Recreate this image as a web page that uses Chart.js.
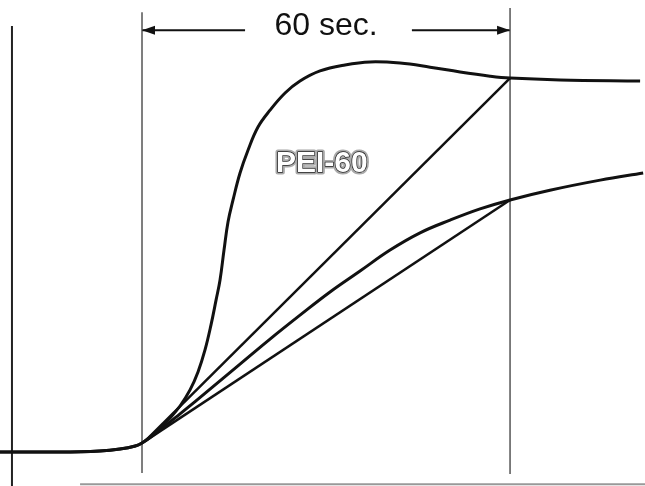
<!DOCTYPE html>
<html>
<head>
<meta charset="utf-8">
<script src="https://cdn.jsdelivr.net/npm/chart.js@4/dist/chart.umd.min.js"></script>
<style>
  html, body { margin: 0; padding: 0; background: #fff; }
  #wrap { width: 645px; height: 486px; }
</style>
</head>
<body>
<div id="wrap"><canvas id="chart" width="645" height="486"></canvas></div>
<script>
// time in seconds (0 = start of step), response in % of final upper level
const baseT = [-23.2, -13.4, -6.9, -3.6, -1.1];
const baseV = [0, 0, 0.3, 0.8, 1.6];

const upperT = [0, 1.3, 2.93, 4.57, 6.2, 7.83, 9.13, 10.27, 11.25, 12.07, 12.72, 13.37, 14.02, 14.84, 15.98, 17.28, 18.91, 20.87, 23.32, 25.76, 29.02, 33.1, 37.18, 42.07, 46.96, 51.85, 56.74, 60, 68.15, 81.2];
const upperV = [2.4, 4.0, 6.4, 9.1, 12.3, 16.6, 21.4, 27.3, 34.0, 40.6, 46.0, 54.0, 61.5, 67.4, 74.6, 80.7, 86.9, 91.4, 96.0, 99.2, 101.9, 103.5, 104.3, 104.0, 102.9, 101.6, 100.5, 100, 99.5, 99.2];

const lowerT = [0, 2.93, 6.2, 11.09, 15.98, 20.87, 25.76, 30.65, 35.55, 40.44, 45.33, 50.22, 55.11, 60, 66.5, 74.7, 81.7];
const lowerV = [2.4, 5.9, 10.2, 16.8, 23.5, 30.2, 36.6, 42.8, 48.4, 54.0, 58.6, 62.0, 65.0, 67.4, 70.0, 72.7, 74.6];

// straight lines from the onset to the curves at 60 s
const chordT = [0.5, 60];
const upperChordV = [2.9, 100];
const lowerChordV = [2.9, 67.4];

// markers at 0 s and 60 s, frame lines
const markT = [0, 60];
const markTop = [117.6, 118.7];
const markBottom = [-5.6, -5.9];
const axisT = -21.2;
const axisV = [113.9, -9.1];
const floorT = [-10.1, 82];
const floorV = -8.6;

// dimension arrows
const arrowLeftT = [16.8, 0];
const arrowRightT = [44.0, 60];
const arrowV = 112.8;

const labels = [
  { text: '60 sec.', t: 30, v: 111.5, style: 'plain' },
  { text: 'PEI-60', t: 29.3, v: 74.9, style: 'outline' }
];

const xMin = -23.15, xMax = 82.0;
const yMin = -9.09, yMax = 120.86;

function pts(ts, vs) {
  return ts.map((t, i) => ({ x: t, y: Array.isArray(vs) ? vs[i] : vs }));
}

const curve = (ts, vs) => ({
  data: pts(baseT.concat(ts), baseV.concat(vs)),
  borderColor: '#111',
  borderWidth: 3,
  pointRadius: 0,
  tension: 0.4,
  fill: false
});

const seg = (data, color, width, extra) => Object.assign({
  data: data,
  borderColor: color,
  borderWidth: width,
  pointRadius: 0,
  tension: 0,
  fill: false
}, extra || {});

const datasets = [
  curve(upperT, upperV),
  curve(lowerT, lowerV),
  seg(pts(chordT, upperChordV), '#111', 2.5),
  seg(pts(chordT, lowerChordV), '#111', 2.5),
  seg([{ x: markT[0], y: markTop[0] }, { x: markT[0], y: markBottom[0] }], '#555', 1.5),
  seg([{ x: markT[1], y: markTop[1] }, { x: markT[1], y: markBottom[1] }], '#555', 1.5),
  seg([{ x: axisT, y: axisV[0] }, { x: axisT, y: axisV[1] }], '#222', 2),
  seg(pts(floorT, floorV), '#999', 2),
  seg(pts(arrowLeftT, arrowV), '#111', 2, { arrowHead: true }),
  seg(pts(arrowRightT, arrowV), '#111', 2, { arrowHead: true })
];

const extras = {
  id: 'extras',
  afterDatasetsDraw(chart) {
    const ctx = chart.ctx;
    const xs = chart.scales.x, ys = chart.scales.y;
    ctx.save();
    // arrowheads
    chart.data.datasets.forEach((ds, i) => {
      if (!ds.arrowHead) return;
      const pts = chart.getDatasetMeta(i).data;
      const a = pts[pts.length - 2], b = pts[pts.length - 1];
      const ang = Math.atan2(b.y - a.y, b.x - a.x);
      const len = 13, half = 4.5;
      ctx.fillStyle = '#111';
      ctx.beginPath();
      ctx.moveTo(b.x, b.y);
      ctx.lineTo(b.x - len * Math.cos(ang) + half * Math.sin(ang), b.y - len * Math.sin(ang) - half * Math.cos(ang));
      ctx.lineTo(b.x - len * Math.cos(ang) - half * Math.sin(ang), b.y - len * Math.sin(ang) + half * Math.cos(ang));
      ctx.closePath();
      ctx.fill();
    });
    // texts
    ctx.textAlign = 'center';
    ctx.textBaseline = 'alphabetic';
    labels.forEach(l => {
      const x = xs.getPixelForValue(l.t), y = ys.getPixelForValue(l.v);
      if (l.style === 'plain') {
        ctx.font = '32px "Liberation Sans", Arial, sans-serif';
        ctx.fillStyle = '#111';
        ctx.fillText(l.text, x, y);
      } else {
        ctx.font = 'bold 30px "Liberation Sans", Arial, sans-serif';
        ctx.lineJoin = 'round';
        ctx.strokeStyle = '#aaa';
        ctx.lineWidth = 5;
        ctx.strokeText(l.text, x, y);
        ctx.strokeStyle = '#222';
        ctx.lineWidth = 1.4;
        ctx.strokeText(l.text, x, y);
        ctx.fillStyle = '#fff';
        ctx.fillText(l.text, x, y);
      }
    });
    ctx.restore();
  }
};

new Chart(document.getElementById('chart'), {
  type: 'line',
  data: { datasets: datasets },
  options: {
    responsive: false,
    animation: false,
    layout: { padding: 0 },
    plugins: { legend: { display: false }, tooltip: { enabled: false } },
    scales: {
      x: { type: 'linear', min: xMin, max: xMax, display: false },
      y: { type: 'linear', min: yMin, max: yMax, display: false }
    }
  },
  plugins: [extras]
});
</script>
</body>
</html>
